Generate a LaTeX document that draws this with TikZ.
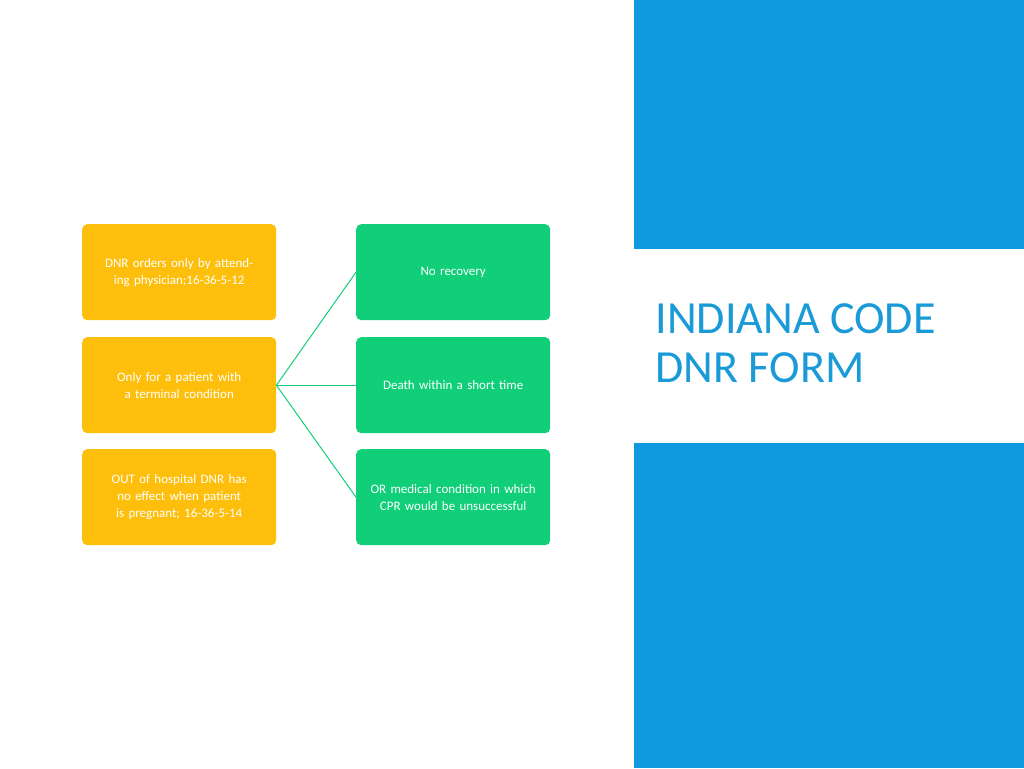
\documentclass[tikz,border=0pt]{standalone}
\usepackage{fontspec}
\setmainfont{Carlito}
\definecolor{orng}{HTML}{FDBF0B}
\definecolor{grn}{HTML}{10CF78}
\definecolor{blu}{HTML}{0E9ADF}
\definecolor{ttl}{HTML}{1A9AD6}
\begin{document}
\begin{tikzpicture}[x=1pt,y=-1pt,
  box/.style={rounded corners=5pt,minimum width=194pt,minimum height=96pt,text width=184pt,align=center,text=white,font=\fontsize{13}{17}\selectfont,anchor=north west},
  ob/.style={box,fill=orng},
  gb/.style={box,fill=grn},
  conn/.style={draw=grn,line width=1pt}]
\useasboundingbox (0,0) rectangle (1024,768);
\fill[blu] (634,0) rectangle (1024,768);
\fill[white] (634,249) rectangle (1024,443);
\node[anchor=west,text=ttl,font=\fontsize{46}{49}\selectfont,align=left] (title) at (652,343) {INDIANA CODE\\DNR FORM};
\node[ob] (o1) at (82,224) {DNR orders only by attending physician;16-36-5-12};
\node[ob] (o2) at (82,337) {Only for a patient with a terminal condition};
\node[ob] (o3) at (82,449) {OUT of hospital DNR has no effect when patient is pregnant; 16-36-5-14};
\node[gb] (g1) at (356,224) {No recovery};
\node[gb] (g2) at (356,337) {Death within a short time};
\node[gb] (g3) at (356,449) {OR medical condition in which CPR would be unsuccessful};
\draw[conn] (o2.east) -- (g1.west);
\draw[conn] (o2.east) -- (g2.west);
\draw[conn] (o2.east) -- (g3.west);
\end{tikzpicture}
\end{document}
